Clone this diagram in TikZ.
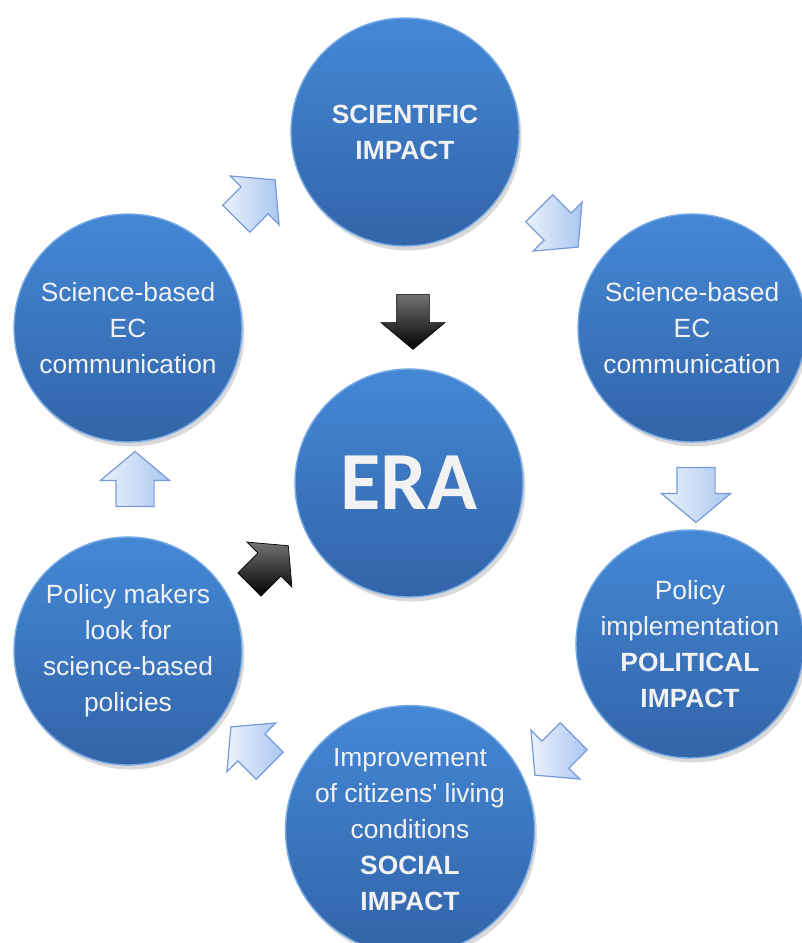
\documentclass[tikz,border=0pt]{standalone}
\usepackage{fontspec}
\setmainfont{Liberation Sans}
\newfontfamily\erafont{Carlito}
\usetikzlibrary{positioning}
\usetikzlibrary{shapes.arrows,shadows}
\definecolor{ballTop}{RGB}{68,136,214}
\definecolor{ballBottom}{RGB}{50,100,168}
\definecolor{ballRim}{RGB}{120,170,228}
\definecolor{arrowTail}{RGB}{236,242,252}
\definecolor{arrowHead}{RGB}{170,198,240}
\definecolor{arrowRim}{RGB}{118,156,216}
\tikzset{
    ball/.style={circle, minimum size=4.56cm, inner sep=0pt,
        top color=ballTop, bottom color=ballBottom, draw=ballRim, line width=0.8pt,
        text=white!95!black, align=center, font=\fontsize{15}{20.5}\selectfont,
        drop shadow={opacity=0.3, shadow xshift=0.05cm, shadow yshift=-0.09cm}}
}
\tikzset{
    flowArrow/.style={single arrow, inner xsep=0pt, inner ysep=0.37cm, minimum height=1.1cm,
        single arrow head extend=0.31cm, single arrow tip angle=100,
        left color=arrowTail, right color=arrowHead, draw=arrowRim, line width=0.7pt}
}
\tikzset{
    eraArrow/.style={single arrow, inner xsep=0pt, inner ysep=0.32cm, minimum height=1.1cm,
        single arrow head extend=0.31cm, single arrow tip angle=100,
        top color=black!55, bottom color=black, draw=black}
}

\begin{document}
\begin{tikzpicture}
			\useasboundingbox (0,0) rectangle (16.02,-18.86);
			% circles
			\node[ball] (scientific) at (8.1,-2.64) {\textbf{SCIENTIFIC}\\\textbf{IMPACT}};
			\node[ball] (era) at (8.18,-9.66) {\erafont\bfseries\fontsize{47}{50}\selectfont ERA};
			\node[ball] (commRight) at (13.84,-6.56) {Science-based\\EC\\communication};
			\node[ball] (commLeft) at (2.56,-6.56) {Science-based\\EC\\communication};
			\node[ball] (political) at (13.8,-12.88) {Policy\\implementation\\\textbf{POLITICAL}\\\textbf{IMPACT}};
			\node[ball] (makers) at (2.56,-13.02) {Policy makers\\look for\\science-based\\policies};
			\node[ball] (social) at (8.2,-16.6) {Improvement\\of citizens\textquotesingle\ living\\conditions\\\textbf{SOCIAL}\\\textbf{IMPACT}};
			% cycle arrows
			\node[flowArrow, rotate=45] (toScientific) at (5.0,-4.1) {};
			\node[flowArrow, rotate=-45] (toCommRight) at (11.06,-4.44) {};
			\node[flowArrow, rotate=-90] (toPolitical) at (13.92,-9.74) {};
			\node[flowArrow, rotate=-135] (toSocial) at (11.2,-15.0) {};
			\node[flowArrow, rotate=135] (toMakers) at (5.12,-15.04) {};
			\node[flowArrow, rotate=90] (toCommLeft) at (2.7,-9.74) {};
			% into ERA
			\node[eraArrow, rotate=-90] (downEra) at (8.26,-6.3) {};
			\node[eraArrow, rotate=45] (upEra) at (5.28,-11.4) {};
		\end{tikzpicture}
\end{document}
